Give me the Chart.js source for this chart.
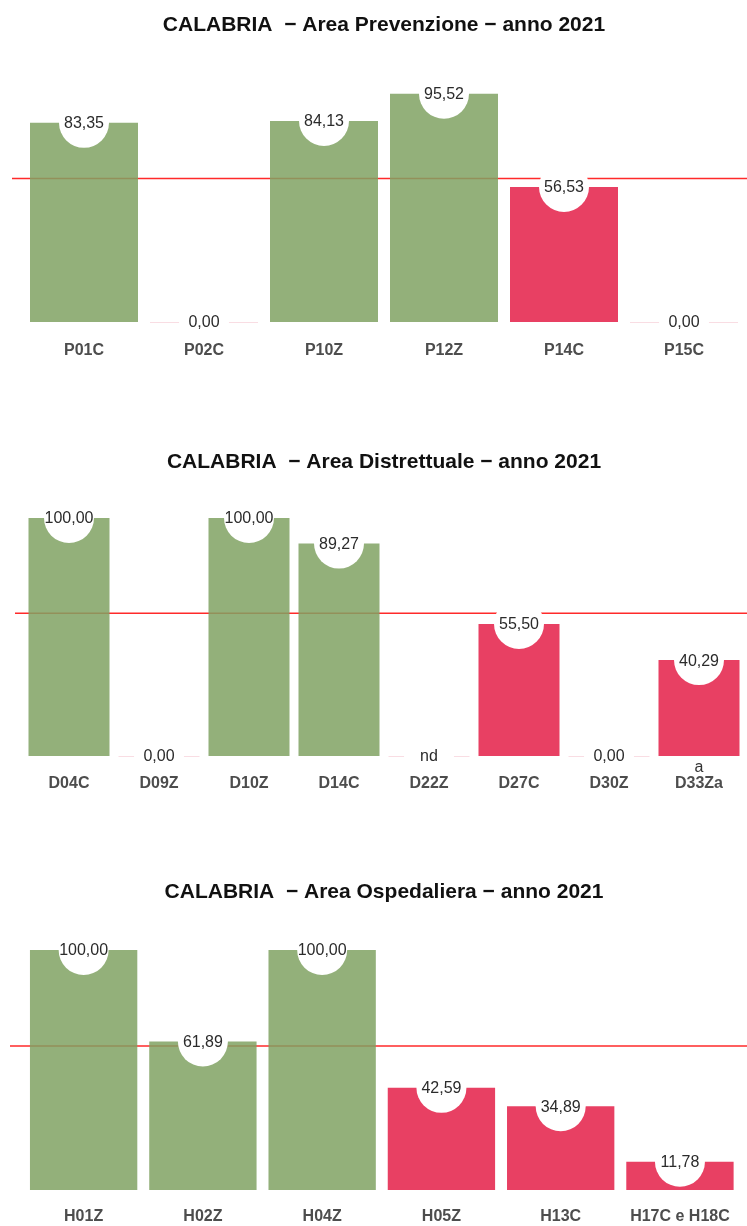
<!DOCTYPE html>
<html>
<head>
<meta charset="utf-8">
<script src="https://cdn.jsdelivr.net/npm/chart.js@4/dist/chart.umd.min.js"></script>
<style>
  html, body { margin: 0; padding: 0; background: #fff; overflow: hidden; }
  canvas { position: absolute; left: 0; }
</style>
</head>
<body>
<canvas id="prev" width="747" height="358" style="top:0px"></canvas>
<canvas id="dist" width="747" height="355" style="top:437px"></canvas>
<canvas id="osp" width="747" height="359" style="top:867px"></canvas>
<script>
// data
var threshold = 60;

var titles = [
    'CALABRIA  \u2212 Area Prevenzione \u2212 anno 2021',
    'CALABRIA  \u2212 Area Distrettuale \u2212 anno 2021',
    'CALABRIA  \u2212 Area Ospedaliera \u2212 anno 2021'
];

var prevLabels = ['P01C', 'P02C', 'P10Z', 'P12Z', 'P14C', 'P15C'];
var prevValues = [83.35, 0, 84.13, 95.52, 56.53, 0];

var distLabels = ['D04C', 'D09Z', 'D10Z', 'D14C', 'D22Z', 'D27C', 'D30Z', 'D33Za'];
var distValues = [100, 0, 100, 89.27, null, 55.50, 0, 40.29];
var distNotes = ['', '', '', '', '', '', '', 'a'];

var ospLabels = ['H01Z', 'H02Z', 'H04Z', 'H05Z', 'H13C', 'H17C e H18C'];
var ospValues = [100, 61.89, 100, 42.59, 34.89, 11.78];

var GREEN = 'rgba(128, 162, 99, 0.85)',
    RED = 'rgba(228, 30, 72, 0.85)';

var fmt = function(v) {
    if (v === null || v === undefined) return 'nd';
    return v.toFixed(2).replace('.', ',');
};

// threshold line under the bars, white bubbles with values on top
var barLabels = {
    id: 'barLabels',
    beforeDatasetsDraw: function(chart, args, opts) {
        var ctx = chart.ctx,
            y = chart.scales.y.getPixelForValue(threshold);
        ctx.save();
        ctx.strokeStyle = '#ff2a2a';
        ctx.lineWidth = 1.5;
        ctx.beginPath();
        ctx.moveTo(opts.lineStart, y);
        ctx.lineTo(chart.width, y);
        ctx.stroke();
        ctx.restore();
    },
    afterDatasetsDraw: function(chart, args, opts) {
        var ctx = chart.ctx,
            meta = chart.getDatasetMeta(0),
            values = chart.data.datasets[0].data,
            base = chart.scales.y.getPixelForValue(0),
            notes = opts.notes || [];

        ctx.save();
        // keep the bubbles off the category labels
        ctx.beginPath();
        ctx.rect(0, 0, chart.width, base + 17);
        ctx.clip();
        meta.data.forEach(function(bar, i) {
            var v = values[i],
                y = v ? bar.y : base;
            if (!v) {
                ctx.strokeStyle = '#f9dde3';
                ctx.lineWidth = 1;
                ctx.beginPath();
                ctx.moveTo(bar.x - bar.width / 2, base + 0.5);
                ctx.lineTo(bar.x + bar.width / 2, base + 0.5);
                ctx.stroke();
            }
            ctx.fillStyle = '#fff';
            ctx.beginPath();
            ctx.arc(bar.x, y, 25, 0, Math.PI * 2);
            ctx.fill();

            ctx.fillStyle = '#2b2b2b';
            ctx.font = '16px "Liberation Sans", Arial, sans-serif';
            ctx.textAlign = 'center';
            ctx.textBaseline = 'middle';
            ctx.fillText(fmt(v), bar.x, y + 1);

            if (notes[i]) {
                ctx.fillStyle = '#333';
                ctx.fillText(notes[i], bar.x, base + 12);
            }
        });
        ctx.restore();
    }
};

var makeChart = function(id, title, labels, values, extra) {
    var ctx = document.getElementById(id).getContext('2d');
    return new Chart(ctx, {
        type: 'bar',
        data: {
            labels: labels,
            datasets: [{
                data: values,
                backgroundColor: values.map(function(v) { return v >= threshold ? GREEN : RED; }),
                borderWidth: 0,
                categoryPercentage: 1,
                barPercentage: 0.9
            }]
        },
        options: {
            responsive: false,
            animation: false,
            layout: { padding: { left: 24, right: 3, top: 0, bottom: 0 } },
            scales: {
                x: {
                    grid: { display: false, drawTicks: false },
                    border: { display: false },
                    ticks: {
                        color: '#4d4d4d',
                        padding: extra.tickPad,
                        maxRotation: 0,
                        autoSkip: false,
                        font: { family: '"Liberation Sans", Arial, sans-serif', size: 16, weight: 'bold' }
                    },
                    afterFit: function(scale) { scale.height = 36; }
                },
                y: { display: false, min: 0, max: 100 }
            },
            plugins: {
                legend: { display: false },
                tooltip: { enabled: false },
                title: {
                    display: true,
                    text: title,
                    color: '#111',
                    font: { family: '"Liberation Sans", Arial, sans-serif', size: 21, weight: 'bold', lineHeight: 1.2 },
                    padding: { top: 12.4, bottom: extra.titleGap }
                },
                barLabels: { lineStart: extra.lineStart, notes: extra.notes }
            }
        },
        plugins: [barLabels]
    });
};

makeChart('prev', titles[0], prevLabels, prevValues, { titleGap: 45.4, lineStart: 12, tickPad: 19 });
makeChart('dist', titles[1], distLabels, distValues, { titleGap: 43.4, lineStart: 15, tickPad: 18, notes: distNotes });
makeChart('osp', titles[2], ospLabels, ospValues, { titleGap: 45.4, lineStart: 10, tickPad: 17 });
</script>
</body>
</html>
